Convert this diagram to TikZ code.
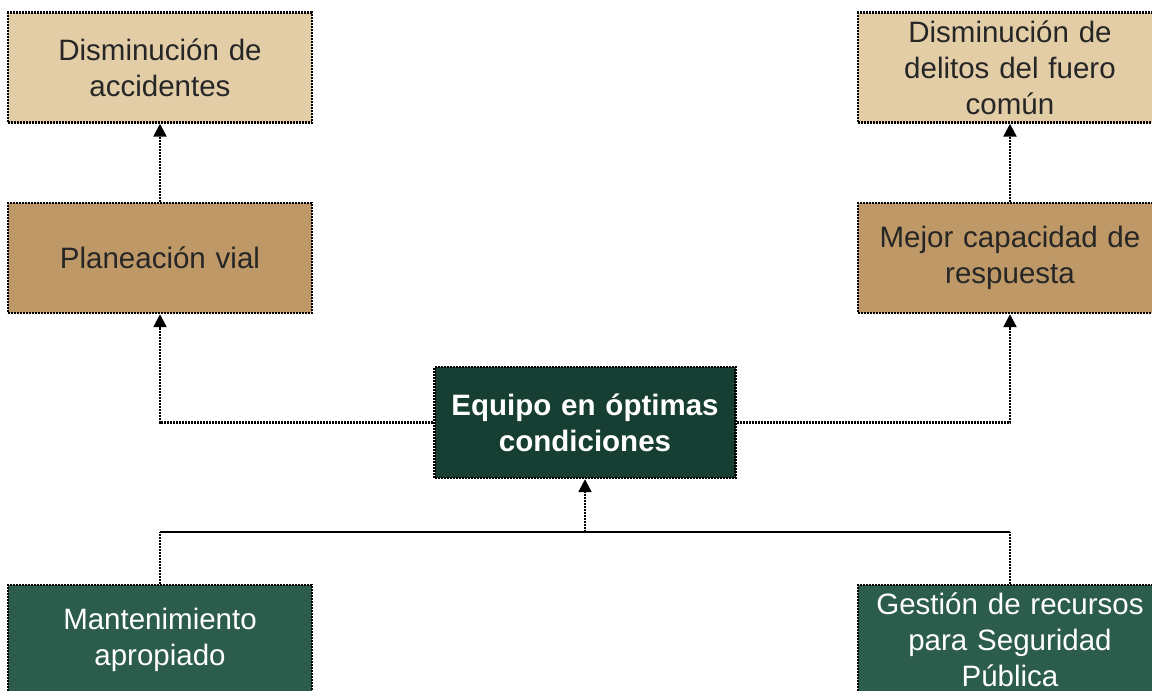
\documentclass[tikz,border=0pt]{standalone}
\usepackage{fontspec}
\setmainfont{Liberation Sans}
\usetikzlibrary{arrows.meta}
\definecolor{tanL}{HTML}{E2CDA6}
\definecolor{tanM}{HTML}{BE9867}
\definecolor{grD}{HTML}{173E33}
\definecolor{grM}{HTML}{2C5D4C}
\tikzset{
  box/.style={draw=black, line width=2.4pt, dash pattern=on 2pt off 1pt,
    minimum width=304pt, minimum height=110pt, inner sep=0pt,
    text width=300pt, align=center, text=black!85,
    font=\fontsize{29.5}{36}\selectfont},
  conn/.style={draw=black, line width=2.2pt, dash pattern=on 2pt off 1pt},
  solidconn/.style={draw=black, line width=2.2pt},
  arr/.style={-{Triangle[length=13pt,width=13pt]}}
}
\begin{document}
\begin{tikzpicture}[x=1pt,y=-1pt]
\clip (0,0) rectangle (1152,691);
\fill[white] (0,0) rectangle (1152,691);
% top row
\node[box, fill=tanL] (da) at (160,67.5) {Disminución de\\accidentes};
\node[box, fill=tanL] (dd) at (1010,67.5) {Disminución de\\delitos del fuero\\común};
% middle row
\node[box, fill=tanM] (pv) at (160,258) {Planeación vial};
\node[box, fill=tanM] (mc) at (1010,258) {Mejor capacidad de\\respuesta};
% center
\node[box, fill=grD, minimum width=301pt, minimum height=111pt, text=white,
  font=\fontsize{29.5}{36}\selectfont\bfseries] (eq) at (585,422.5) {Equipo en óptimas\\condiciones};
% bottom
\node[box, fill=grM, text=white] (ma) at (160,640) {Mantenimiento\\apropiado};
\node[box, fill=grM, text=white] (gs) at (1010,640) {Gestión de recursos\\para Seguridad\\Pública};
% connectors
\coordinate (jl) at (160,532);
\coordinate (jr) at (1010,532);
\coordinate (jc) at (585,532);
\draw[conn, arr] (pv.north) -- (da.south);
\draw[conn, arr] (mc.north) -- (dd.south);
\draw[conn, arr] (eq.west) -| (pv.south);
\draw[conn, arr] (eq.east) -| (mc.south);
\draw[conn] (ma.north) -- (jl);
\draw[conn] (gs.north) -- (jr);
\draw[solidconn] (jl) -- (jr);
\draw[conn, arr] (jc) -- (eq.south);
\end{tikzpicture}
\end{document}
